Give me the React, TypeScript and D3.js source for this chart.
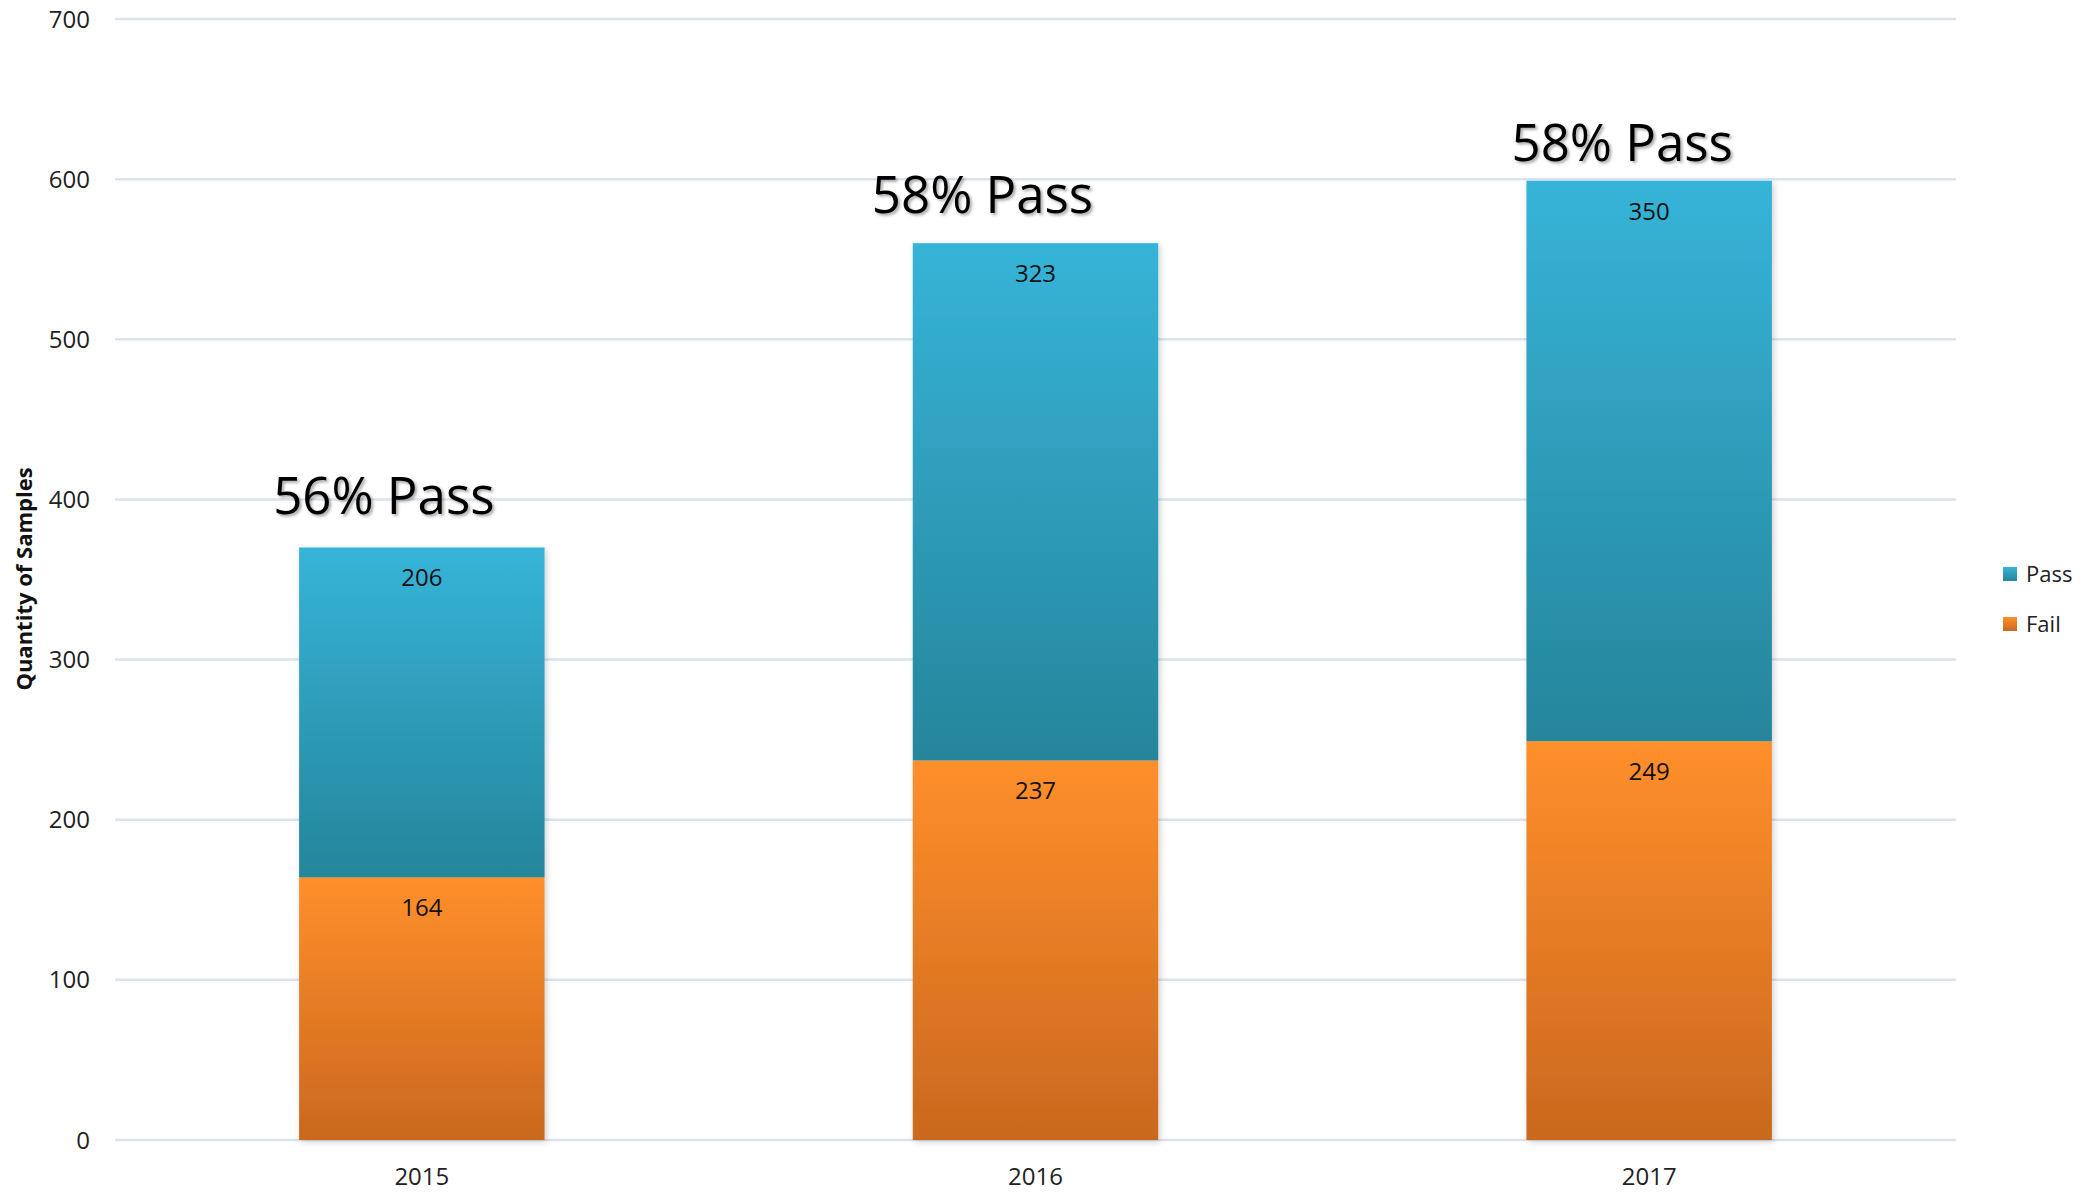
import * as React from 'react';
import * as d3 from 'd3';

const years: string[] = ['2015', '2016', '2017'];
const passValues: number[] = [206, 323, 350];
const failValues: number[] = [164, 237, 249];
const yTicks: number[] = [0, 100, 200, 300, 400, 500, 600, 700];
const seriesNames: string[] = ['Pass', 'Fail'];
// hand placed nudges of the "xx% Pass" call-outs, as in the original chart
const calloutDx: number[] = [-38, -53, -27];
const calloutDy: number[] = [-33, -30, -20];

const WIDTH = 2088;
const HEIGHT = 1197;
const FONT = '"Open Sans", "Noto Sans", sans-serif';

class StackedPassChart extends React.Component<{}, any> {
	private svgRef = React.createRef<SVGSVGElement>();

	public render() {
		return (
			<svg
				ref={this.svgRef}
				width={WIDTH}
				height={HEIGHT}
				viewBox={`0 0 ${WIDTH} ${HEIGHT}`}
				style={{ position: 'absolute', left: 0, top: 0, background: '#fff' }}
			/>
		);
	}

	public componentDidMount() {
		const svg = d3.select(this.svgRef.current);
		svg.selectAll('*').remove();

		const plot = { left: 115, right: 1956, top: 19, bottom: 1140 };

		const x = d3.scaleBand<string>().domain(years).range([plot.left, plot.right]).paddingInner(0.6).paddingOuter(0.3);
		const y = d3.scaleLinear().domain([0, 700]).range([plot.bottom, plot.top]);

		// gradients + shadows
		const defs = svg.append('defs');
		const addGradient = (id: string, top: string, bottom: string) => {
			const g = defs.append('linearGradient').attr('id', id).attr('x1', 0).attr('y1', 0).attr('x2', 0).attr('y2', 1);
			g.append('stop').attr('offset', '0%').attr('stop-color', top);
			g.append('stop').attr('offset', '100%').attr('stop-color', bottom);
		};
		addGradient('grad-pass', '#36b4d8', '#25859b');
		addGradient('grad-fail', '#ff8f2b', '#ca681e');

		defs
			.append('filter')
			.attr('id', 'bar-shadow')
			.attr('x', '-10%')
			.attr('y', '-10%')
			.attr('width', '120%')
			.attr('height', '120%')
			.append('feDropShadow')
			.attr('dx', 2)
			.attr('dy', 2)
			.attr('stdDeviation', 3)
			.attr('flood-color', '#000')
			.attr('flood-opacity', 0.18);

		defs
			.append('filter')
			.attr('id', 'text-shadow')
			.attr('x', '-10%')
			.attr('y', '-20%')
			.attr('width', '120%')
			.attr('height', '150%')
			.append('feDropShadow')
			.attr('dx', 2)
			.attr('dy', 2)
			.attr('stdDeviation', 1.5)
			.attr('flood-color', '#000')
			.attr('flood-opacity', 0.35);

		// gridlines
		svg
			.append('g')
			.selectAll('line')
			.data(yTicks)
			.enter()
			.append('line')
			.attr('x1', plot.left)
			.attr('x2', plot.right)
			.attr('y1', (d) => y(d))
			.attr('y2', (d) => y(d))
			.attr('stroke', '#d9e4f2')
			.attr('stroke-width', 2.5);

		// y tick labels
		svg
			.append('g')
			.selectAll('text')
			.data(yTicks)
			.enter()
			.append('text')
			.attr('x', 90)
			.attr('y', (d) => y(d))
			.attr('dy', '0.36em')
			.attr('text-anchor', 'end')
			.attr('font-family', FONT)
			.attr('font-size', 24)
			.attr('fill', '#222')
			.text((d) => d);

		// y title
		svg
			.append('text')
			.attr('transform', `translate(32, 579) rotate(-90)`)
			.attr('text-anchor', 'middle')
			.attr('font-family', FONT)
			.attr('font-weight', 'bold')
			.attr('font-size', 22)
			.attr('fill', '#111')
			.text('Quantity of Samples');

		// stack
		const rows = years.map((yr, i) => ({ year: yr, Pass: passValues[i], Fail: failValues[i] }));
		const stack = d3.stack<any>().keys(['Fail', 'Pass'])(rows);

		const bars = svg.append('g').attr('filter', 'url(#bar-shadow)');
		stack.forEach((layer) => {
			bars
				.append('g')
				.selectAll('rect')
				.data(layer)
				.enter()
				.append('rect')
				.attr('x', (d: any) => x(d.data.year) as number)
				.attr('width', x.bandwidth())
				.attr('y', (d: any) => y(d[1]))
				.attr('height', (d: any) => y(d[0]) - y(d[1]))
				.attr('fill', `url(#grad-${layer.key.toLowerCase()})`);
		});

		// value labels near top of each segment
		stack.forEach((layer) => {
			svg
				.append('g')
				.selectAll('text')
				.data(layer)
				.enter()
				.append('text')
				.attr('x', (d: any) => (x(d.data.year) as number) + x.bandwidth() / 2)
				.attr('y', (d: any) => y(d[1]) + 39)
				.attr('text-anchor', 'middle')
				.attr('font-family', FONT)
				.attr('font-size', 24)
				.attr('fill', '#111')
				.text((d: any) => d[1] - d[0]);
		});

		// percentage call-outs
		svg
			.append('g')
			.selectAll('text')
			.data(rows)
			.enter()
			.append('text')
			.attr('x', (d, i) => (x(d.year) as number) + x.bandwidth() / 2 + calloutDx[i])
			.attr('y', (d, i) => y(d.Pass + d.Fail) + calloutDy[i])
			.attr('text-anchor', 'middle')
			.attr('font-family', FONT)
			.attr('font-size', 51)
			.attr('fill', '#000')
			.attr('filter', 'url(#text-shadow)')
			.text((d) => `${Math.round((d.Pass / (d.Pass + d.Fail)) * 100)}% Pass`);

		// x labels
		svg
			.append('g')
			.selectAll('text')
			.data(years)
			.enter()
			.append('text')
			.attr('x', (d) => (x(d) as number) + x.bandwidth() / 2)
			.attr('y', 1185)
			.attr('text-anchor', 'middle')
			.attr('font-family', FONT)
			.attr('font-size', 24)
			.attr('fill', '#222')
			.text((d) => d);

		// legend
		const legend = svg
			.append('g')
			.selectAll('g')
			.data(seriesNames)
			.enter()
			.append('g')
			.attr('transform', (d, i) => `translate(2003, ${567 + i * 50})`);
		legend
			.append('rect')
			.attr('width', 14)
			.attr('height', 14)
			.attr('fill', (d) => `url(#grad-${d.toLowerCase()})`);
		legend
			.append('text')
			.attr('x', 23)
			.attr('y', 7)
			.attr('dy', '0.36em')
			.attr('font-family', FONT)
			.attr('font-size', 22)
			.attr('fill', '#222')
			.text((d) => d);
	}
}

export default function App() {
	return <StackedPassChart />;
}
